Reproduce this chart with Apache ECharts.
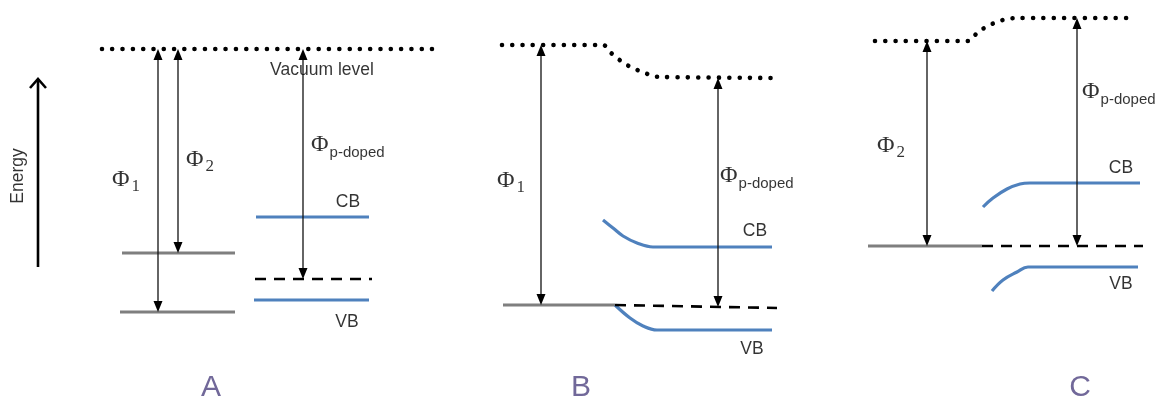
<!DOCTYPE html>
<html>
<head>
<meta charset="utf-8">
<title>Energy band alignment</title>
<script src="https://cdn.jsdelivr.net/npm/echarts@6/dist/echarts.min.js"></script>
<style>
  html, body { margin: 0; padding: 0; background: #ffffff; }
  #chart { width: 1159px; height: 403px; }
</style>
</head>
<body>
<div id="chart"></div>
<script>
// Horizontal position (x) and energy (upward) of every level, per panel.

// A: metals and p-doped semiconductor, separate
const vacuumA = [[102, 354], [440, 354]];
const metal1A = [[120, 91], [235, 91]];
const metal2A = [[122, 150], [235, 150]];
const cbA = [[256, 186], [369, 186]];
const fermiA = [[255, 124], [372, 124]];
const vbA = [[254, 103], [369, 103]];

// B: contact with metal 1 (bands bend down)
const vacuumB = [[502, 358], [603, 358], [610, 351], [617, 345], [627, 338], [635, 334], [645, 330], [653, 327], [662, 326], [777, 325]];
const metalB = [[503, 98], [615, 98]];
const fermiB = [[615, 98], [777, 95]];
const cbB = [[603, 183], [613, 175], [623, 167], [637, 160], [653, 156], [772, 156]];
const vbB = [[615, 98], [630, 85], [643, 77], [657, 73], [772, 73]];

// C: contact with metal 2 (bands bend up)
const vacuumC = [[875, 362], [968, 362], [978, 371], [988, 377], [997, 381], [1007, 384], [1017, 385], [1135, 385]];
const metalC = [[868, 157], [982, 157]];
const fermiC = [[982, 157], [1143, 157]];
const cbC = [[983, 196], [993, 205], [1007, 214], [1020, 219], [1030, 220], [1140, 220]];
const vbC = [[992, 112], [1003, 123], [1017, 131], [1028, 136], [1138, 136]];

// Work-function arrows: [x, vacuum level, Fermi level]
const workFunctions = [[158, 354, 91], [178, 354, 150], [303, 354, 124], [541, 358, 98], [718, 325, 96], [927, 362, 157], [1077, 385, 157]];
// Energy direction arrow: [x, tail, head]
const energyArrow = [[38, 136, 325]];

// Text: [text, x, energy]
const levelLabels = [['Vacuum level', 322, 333], ['CB', 348, 201], ['VB', 347, 81], ['CB', 755, 172], ['VB', 752, 54], ['CB', 1121, 235], ['VB', 1121, 119]];
const phiLabels = [['1', 112, 223], ['2', 186, 243], ['p-doped', 311, 258], ['1', 497, 222], ['p-doped', 720, 227], ['2', 877, 257], ['p-doped', 1082, 311]];
const panelLabels = [['A', 211, 15], ['B', 581, 15], ['C', 1080, 15]];
const axisLabel = [['Energy', 18, 227]];

const SANS = '"Liberation Sans", Arial, sans-serif';
const SERIF = '"Liberation Serif", "Times New Roman", serif';
const BLUE = '#4f81bd';
const GRAY = '#7f7f7f';

function level(data, color, width, type, smooth) {
  return {
    type: 'line', data: data, symbol: 'none', smooth: smooth || false,
    lineStyle: { color: color, width: width, type: type || 'solid', cap: 'butt' },
    silent: true, z: 2
  };
}
function vacuum(data) {
  return {
    type: 'line', data: data, symbol: 'none', smooth: 0.35,
    lineStyle: { color: '#000', width: 4.6, type: [0.01, 10.3], cap: 'round' },
    silent: true, z: 2
  };
}

function renderWorkFunction(params, api) {
  const top = api.coord([api.value(0), api.value(1)]);
  const bot = api.coord([api.value(0), api.value(2)]);
  const w = 4.5, h = 11;
  return {
    type: 'group',
    children: [
      { type: 'line', shape: { x1: top[0], y1: top[1] + h - 1, x2: bot[0], y2: bot[1] - h + 1 },
        style: { stroke: '#111', lineWidth: 1.3 } },
      { type: 'polygon', shape: { points: [[top[0], top[1]], [top[0] - w, top[1] + h], [top[0] + w, top[1] + h]] },
        style: { fill: '#000' } },
      { type: 'polygon', shape: { points: [[bot[0], bot[1]], [bot[0] - w, bot[1] - h], [bot[0] + w, bot[1] - h]] },
        style: { fill: '#000' } }
    ]
  };
}

function renderEnergyArrow(params, api) {
  const tail = api.coord([api.value(0), api.value(1)]);
  const head = api.coord([api.value(0), api.value(2)]);
  return {
    type: 'group',
    children: [
      { type: 'line', shape: { x1: tail[0], y1: tail[1], x2: head[0], y2: head[1] + 1 },
        style: { stroke: '#000', lineWidth: 2.6 } },
      { type: 'polyline', shape: { points: [[head[0] - 8, head[1] + 10], [head[0], head[1] + 1], [head[0] + 8, head[1] + 10]] },
        style: { stroke: '#000', lineWidth: 2.6, fill: null, lineJoin: 'miter' } }
    ]
  };
}

function textSeries(rows, label) {
  return {
    type: 'scatter', symbolSize: 0, silent: true, z: 5,
    data: rows.map(r => ({ value: [r[1], r[2]], name: r[0] })),
    label: Object.assign({ show: true, formatter: p => p.name }, label)
  };
}

const chart = echarts.init(document.getElementById('chart'), null, { renderer: 'canvas' });
chart.setOption({
  backgroundColor: '#ffffff',
  animation: false,
  grid: { left: 0, right: 0, top: 0, bottom: 0 },
  xAxis: { type: 'value', min: 0, max: 1159, show: false },
  yAxis: { type: 'value', min: 0, max: 403, show: false },
  series: [
    vacuum(vacuumA), vacuum(vacuumB), vacuum(vacuumC),
    level(metal1A, GRAY, 3.2), level(metal2A, GRAY, 3.2),
    level(metalB, GRAY, 3.2), level(metalC, GRAY, 3.2),
    level(cbA, BLUE, 3.2), level(vbA, BLUE, 3.2),
    level(cbB, BLUE, 3.2, 'solid', 0.4), level(vbB, BLUE, 3.2, 'solid', 0.4),
    level(cbC, BLUE, 3.2, 'solid', 0.4), level(vbC, BLUE, 3.2, 'solid', 0.4),
    level(fermiA, '#000', 2.6, [11, 8]),
    level(fermiB, '#000', 2.6, [11, 8]),
    level(fermiC, '#000', 2.6, [11, 8]),
    {
      type: 'custom', renderItem: renderWorkFunction, data: workFunctions,
      encode: { x: 0, y: [1, 2] }, silent: true, z: 4
    },
    {
      type: 'custom', renderItem: renderEnergyArrow, data: energyArrow,
      encode: { x: 0, y: [1, 2] }, silent: true, z: 4
    },
    textSeries(levelLabels, {
      position: 'inside', color: '#000', fontFamily: SANS, fontSize: 17.5
    }),
    {
      type: 'scatter', symbolSize: 0, silent: true, z: 5,
      data: phiLabels.map(r => ({ value: [r[1], r[2]], name: r[0] })),
      label: {
        show: true, position: 'right', distance: 0,
        formatter: p => '{phi|\u03A6}' + (/^\d$/.test(p.name) ? '{num|' + p.name + '}' : '{txt|' + p.name + '}'),
        rich: {
          phi: { fontFamily: SERIF, fontSize: 24, lineHeight: 30, color: '#000' },
          num: { fontFamily: SERIF, fontSize: 17, lineHeight: 17, verticalAlign: 'bottom', color: '#000', padding: [0, 0, 0, 2] },
          txt: { fontFamily: SANS, fontSize: 15, lineHeight: 17, verticalAlign: 'bottom', color: '#000', padding: [0, 0, 0, 1] }
        }
      }
    },
    textSeries(panelLabels, {
      position: 'inside', color: '#4e4280', fontFamily: SANS, fontSize: 30
    }),
    textSeries(axisLabel, {
      position: 'inside', color: '#000', fontFamily: SANS, fontSize: 17.5, rotate: 90
    })
  ]
});
</script>
</body>
</html>
